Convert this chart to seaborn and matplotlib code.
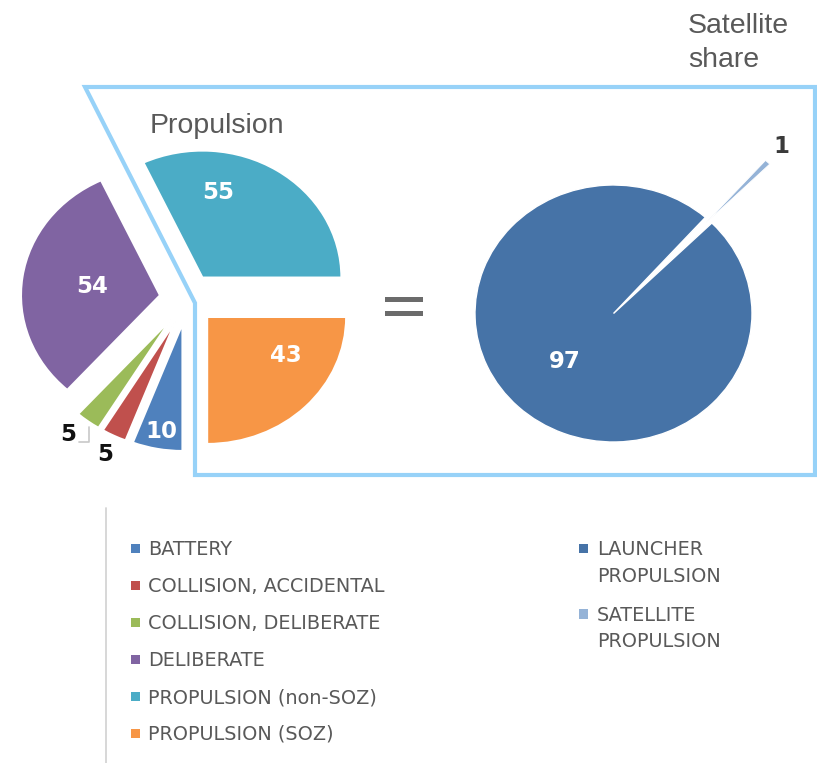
import numpy as np
import matplotlib
matplotlib.use("Agg")
import matplotlib.pyplot as plt
from matplotlib.patches import Polygon, Rectangle
from matplotlib.lines import Line2D
import seaborn as sns

# Fragmentation events by cause (left pie), in legend order
causes = ["BATTERY", "COLLISION, ACCIDENTAL", "COLLISION, DELIBERATE",
          "DELIBERATE", "PROPULSION (non-SOZ)", "PROPULSION (SOZ)"]
cause_counts = [10, 5, 5, 54, 55, 43]
cause_colors = ["#4F81BD", "#C0504D", "#9BBB59", "#8064A2", "#4BACC6", "#F79646"]

# Propulsion events split by stage type (right pie)
stages = ["LAUNCHER\nPROPULSION", "SATELLITE\nPROPULSION"]
stage_shares = [97, 1]
stage_colors = ["#4673A7", "#95B3D7"]

# label placement (radius from pie centre, angular nudge in degrees)
cause_label_r = [1.064, 1.362, 1.37, 0.694, 0.863, 0.839]
cause_label_dt = [0.2, 0.4, -2.1, 0.4, 17.8, 12.7]
cause_label_dark = [False, True, True, False, False, False]

sns.set_theme(style="white")
plt.rcParams["font.family"] = ["DejaVu Sans"]

W, H = 817, 763
fig = plt.figure(figsize=(W / 100, H / 100), dpi=100)
fig.patch.set_facecolor("white")

GREY = "#595959"
FRAME = "#97D2F8"


def fx(x):
    return x / W


def fy(y):
    return 1 - y / H


def pie_axes(cx, cy, rx, ry, lim):
    w, h = 2 * lim * rx, 2 * lim * ry
    ax = fig.add_axes([(cx - w / 2) / W, 1 - (cy + h / 2) / H, w / W, h / H])
    return ax, lim


# ---- left pie: all causes ----
axL, limL = pie_axes(187.5, 299, 139, 127, 1.6)
wedgesL, _ = axL.pie(cause_counts, colors=cause_colors, startangle=270,
                     counterclock=False, explode=[0.2] * len(cause_counts),
                     wedgeprops=dict(edgecolor="white", linewidth=1.5))
axL.set_aspect("auto")
axL.set_xlim(-limL, limL)
axL.set_ylim(-limL, limL)
axL.axis("off")

label_pos = []
for w, val, r, dt, dark in zip(wedgesL, cause_counts, cause_label_r,
                               cause_label_dt, cause_label_dark):
    mid = np.deg2rad((w.theta1 + w.theta2) / 2 + dt)
    x, y = r * np.cos(mid), r * np.sin(mid)
    label_pos.append((x, y))
    axL.text(x, y, f"{val}", ha="center", va="center", fontsize=16.5,
             fontweight="bold", color="#111111" if dark else "white")

# leader line for the deliberate-collision label
wg = wedgesL[2]
gmid = np.deg2rad((wg.theta1 + wg.theta2) / 2 + 0.6)
gx = wg.center[0] + 1.02 * np.cos(gmid)
gy = wg.center[1] + 1.02 * np.sin(gmid)
lx, ly = label_pos[2]
axL.add_line(Line2D([lx + 0.08, gx + 0.01, gx + 0.01],
                    [ly - 0.058, ly - 0.058, gy - 0.02],
                    color="#c8c8c8", lw=1.2))

# ---- right pie: launcher vs satellite propulsion ----
axR, limR = pie_axes(613.5, 313.5, 138.5, 128.5, 1.9)
wedgesR, _ = axR.pie(stage_shares, colors=stage_colors, startangle=48.44,
                     counterclock=True, explode=[0, 0.97],
                     wedgeprops=dict(edgecolor="white", linewidth=1.0))
wedgesR[1].set_radius(0.65)
wedgesR[1].set_linewidth(0.6)
axR.set_aspect("auto")
axR.set_xlim(-limR, limR)
axR.set_ylim(-limR, limR)
axR.axis("off")

stage_label_r = [0.512, 1.781]
for w, val, r, col in zip(wedgesR, stage_shares, stage_label_r, ["white", "#3a3a3a"]):
    mid = np.deg2rad((w.theta1 + w.theta2) / 2 + 0.4)
    axR.text(r * np.cos(mid), r * np.sin(mid), f"{val}", ha="center",
             va="center", fontsize=16.5, fontweight="bold", color=col)

# ---- frame linking the propulsion slices to the breakdown ----
frame_pts = [(85, 87), (815, 87), (815, 475), (195, 475), (195, 303)]
fig.add_artist(Polygon([(fx(x), fy(y)) for x, y in frame_pts], closed=True,
                       fill=False, edgecolor=FRAME, lw=3.0, joinstyle="miter",
                       transform=fig.transFigure))

# equals sign between the pies
for y0 in (297, 311):
    fig.add_artist(Rectangle((fx(385), fy(y0 + 5)), 38 / W, 5 / H,
                             facecolor="#6b6b6b", edgecolor="none",
                             transform=fig.transFigure))

# titles
fig.text(fx(150), fy(133), "Propulsion", fontsize=20.5, color=GREY,
         family="Liberation Sans", va="baseline", ha="left")
fig.text(fx(688), fy(33), "Satellite", fontsize=20.5, color=GREY,
         family="Liberation Sans", va="baseline", ha="left")
fig.text(fx(688), fy(67), "share", fontsize=20.5, color=GREY,
         family="Liberation Sans", va="baseline", ha="left")

# ---- legend ----
fig.add_artist(Line2D([fx(106.5), fx(106.5)], [fy(508), fy(763)],
                      color="#d4d4d4", lw=1.3, transform=fig.transFigure))

LEG_FS = 13.9
for i, (name, col) in enumerate(zip(causes, cause_colors)):
    base = 555 + 37 * i
    fig.add_artist(Rectangle((fx(130.5), fy(553)), 9.5 / W, 9.5 / H,
                             facecolor=col, edgecolor="none",
                             transform=fig.transFigure))
    fig.artists[-1].set_y(fy(553 + 37 * i))
    fig.text(fx(148), fy(base), name, fontsize=LEG_FS, color=GREY,
             va="baseline", ha="left")

for i, (name, col) in enumerate(zip(stages, stage_colors)):
    base = 555 + 65.7 * i
    fig.add_artist(Rectangle((fx(578.5), fy(553 + 65.7 * i)), 9.5 / W, 9.5 / H,
                             facecolor=col, edgecolor="none",
                             transform=fig.transFigure))
    first, second = name.split("\n")
    fig.text(fx(597), fy(base), first, fontsize=LEG_FS, color=GREY,
             va="baseline", ha="left")
    fig.text(fx(597), fy(base + 26.7), second, fontsize=LEG_FS, color=GREY,
             va="baseline", ha="left")

fig.savefig("out.png", dpi=100, facecolor="white")
